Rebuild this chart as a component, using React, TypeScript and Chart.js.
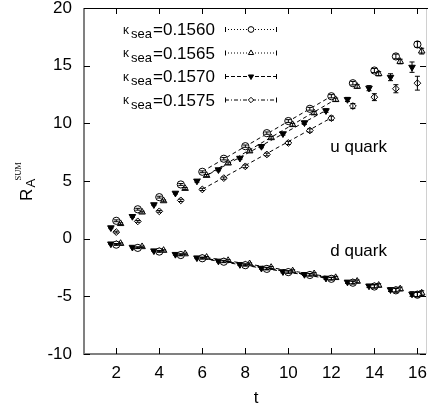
import { useEffect, useRef } from "react";
import { Chart, registerables } from "chart.js";
Chart.register(...registerables);

const FONT = '"Liberation Sans", Arial, Helvetica, sans-serif';

const tValues = [2, 3, 4, 5, 6, 7, 8, 9, 10, 11, 12, 13, 14, 15, 16];
const xTicks = [2, 4, 6, 8, 10, 12, 14, 16];
const yTicks = [-10, -5, 0, 5, 10, 15, 20];
const kappaLabels = ["0.1560", "0.1565", "0.1570", "0.1575"];
const xOffsets = [0, 0.2, -0.25, 0];

// u quark
const u1560 = [1.55, 2.55, 3.6, 4.7, 5.8, 6.93, 8.02, 9.15, 10.2, 11.26, 12.35, 13.48, 14.58, 15.8, 16.84];
const u1565 = [1.3, 2.3, 3.28, 4.35, 5.48, 6.55, 7.6, 8.75, 9.88, 10.9, 12.05, 13.2, 14.3, 15.36, 16.26];
const u1570 = [0.95, 1.93, 2.95, 3.95, 5.0, 5.98, 6.98, 8.0, 9.1, 10.05, 11.1, 12.07, 13.05, 14.0, 14.87];
const u1575 = [0.57, 1.5, 2.37, 3.32, 4.27, 5.25, 6.27, 7.3, 8.3, 9.38, 10.45, 11.5, 12.27, 13.0, 13.48];
const uErr1560 = [0.08, 0.08, 0.08, 0.08, 0.08, 0.1, 0.1, 0.1, 0.12, 0.12, 0.14, 0.15, 0.18, 0.2, 0.25];
const uErr1565 = [0.08, 0.08, 0.08, 0.08, 0.08, 0.1, 0.1, 0.1, 0.12, 0.12, 0.14, 0.15, 0.18, 0.2, 0.25];
const uErr1570 = [0.08, 0.08, 0.08, 0.08, 0.1, 0.1, 0.1, 0.12, 0.12, 0.14, 0.15, 0.18, 0.22, 0.3, 0.45];
const uErr1575 = [0.08, 0.08, 0.08, 0.1, 0.1, 0.1, 0.12, 0.12, 0.14, 0.15, 0.18, 0.22, 0.3, 0.35, 0.6];

// d quark
const d1560 = [-0.52, -0.8, -1.12, -1.42, -1.7, -2.0, -2.3, -2.62, -2.9, -3.15, -3.48, -3.82, -4.15, -4.48, -4.86];
const d1565 = [-0.42, -0.7, -1.02, -1.32, -1.62, -1.9, -2.18, -2.5, -2.8, -3.05, -3.38, -3.7, -4.05, -4.36, -4.72];
const d1570 = [-0.45, -0.74, -1.05, -1.36, -1.66, -1.94, -2.24, -2.56, -2.86, -3.1, -3.42, -3.76, -4.1, -4.42, -4.8];
const d1575 = [-0.48, -0.77, -1.08, -1.38, -1.67, -1.96, -2.26, -2.58, -2.88, -3.12, -3.45, -3.78, -4.12, -4.45, -4.82];
const dErr = [0.06, 0.06, 0.06, 0.07, 0.07, 0.08, 0.08, 0.09, 0.1, 0.1, 0.11, 0.12, 0.14, 0.16, 0.2];

// fit lines (t from 6 to 12)
const fitT = [6, 12];
const uFit1560 = [5.82, 12.35];
const uFit1565 = [5.5, 12.08];
const uFit1570 = [5.02, 11.12];
const uFit1575 = [4.28, 10.48];
const dFit1560 = [-1.68, -3.46];
const dFit1565 = [-1.63, -3.4];
const dFit1570 = [-1.66, -3.43];
const dFit1575 = [-1.67, -3.45];

const uSeries = [u1560, u1565, u1570, u1575];
const uErrs = [uErr1560, uErr1565, uErr1570, uErr1575];
const dSeries = [d1560, d1565, d1570, d1575];
const uFits = [uFit1560, uFit1565, uFit1570, uFit1575];
const dFits = [dFit1560, dFit1565, dFit1570, dFit1575];

const markerStyles = [
  { pointStyle: "circle", rotation: 0, fill: "#ffffff", radius: 3.6 },
  { pointStyle: "triangle", rotation: 0, fill: "#ffffff", radius: 3.8 },
  { pointStyle: "triangle", rotation: 180, fill: "#000000", radius: 3.8 },
  { pointStyle: "rectRot", rotation: 0, fill: "#ffffff", radius: 3.4 },
];
const legendDashes = [[1, 2], [1, 2], [4, 2], [4, 2, 1, 2]];

function drawMarker(ctx: CanvasRenderingContext2D, i: number, x: number, y: number, scale: number) {
  const m = markerStyles[i];
  const r = m.radius * scale;
  ctx.save();
  ctx.setLineDash([]);
  ctx.lineWidth = 1;
  ctx.strokeStyle = "#000";
  ctx.fillStyle = m.fill;
  ctx.beginPath();
  if (m.pointStyle === "circle") {
    ctx.arc(x, y, r, 0, Math.PI * 2);
  } else if (m.pointStyle === "triangle") {
    let rad = (m.rotation * Math.PI) / 180;
    ctx.moveTo(x + Math.sin(rad) * r, y - Math.cos(rad) * r);
    rad += (2 * Math.PI) / 3;
    ctx.lineTo(x + Math.sin(rad) * r, y - Math.cos(rad) * r);
    rad += (2 * Math.PI) / 3;
    ctx.lineTo(x + Math.sin(rad) * r, y - Math.cos(rad) * r);
    ctx.closePath();
  } else {
    ctx.moveTo(x, y - r);
    ctx.lineTo(x + r, y);
    ctx.lineTo(x, y + r);
    ctx.lineTo(x - r, y);
    ctx.closePath();
  }
  ctx.fill();
  ctx.stroke();
  ctx.restore();
}

const decorPlugin = {
  id: "decor",
  beforeDatasetsDraw(chart: any) {
    const { ctx, chartArea: a, scales } = chart;
    const xs = scales.x;
    const ys = scales.y;
    ctx.save();
    ctx.strokeStyle = "#d0d0d0";
    ctx.lineWidth = 1;
    ctx.beginPath();
    ctx.moveTo(a.right + 0.5, a.top);
    ctx.lineTo(a.right + 0.5, a.bottom);
    ctx.stroke();
    ctx.strokeStyle = "#000";
    ctx.beginPath();
    ctx.moveTo(a.left, a.top + 0.5);
    ctx.lineTo(a.right + 2, a.top + 0.5);
    ctx.stroke();
    ctx.strokeStyle = "#808080";
    ctx.lineWidth = 2;
    ctx.beginPath();
    ctx.moveTo(a.left, a.top);
    ctx.lineTo(a.left, a.bottom);
    ctx.moveTo(a.left - 1, a.bottom);
    ctx.lineTo(a.right, a.bottom);
    ctx.stroke();
    ctx.strokeStyle = "#000";
    ctx.lineWidth = 1;
    ctx.beginPath();
    for (const v of xTicks) {
      const px = Math.round(xs.getPixelForValue(v)) + 0.5;
      ctx.moveTo(px, a.bottom);
      ctx.lineTo(px, a.bottom - 6);
      ctx.moveTo(px, a.top);
      ctx.lineTo(px, a.top + 6);
    }
    for (const v of yTicks) {
      const py = Math.round(ys.getPixelForValue(v)) + 0.5;
      ctx.moveTo(a.left, py);
      ctx.lineTo(a.left + 6, py);
      ctx.moveTo(a.right, py);
      ctx.lineTo(a.right - 6, py);
    }
    ctx.stroke();
    ctx.restore();
  },
  afterDatasetsDraw(chart: any) {
    const { ctx, chartArea: a, scales } = chart;
    const xs = scales.x;
    const ys = scales.y;
    ctx.save();
    ctx.strokeStyle = "#000";
    ctx.lineWidth = 1;
    ctx.setLineDash([]);
    chart.data.datasets.forEach((ds: any) => {
      if (!ds.errors) return;
      ds.data.forEach((p: any, j: number) => {
        const e = ds.errors[j];
        const px = xs.getPixelForValue(p.x);
        const y1 = ys.getPixelForValue(p.y - e);
        const y2 = ys.getPixelForValue(p.y + e);
        ctx.beginPath();
        ctx.moveTo(px, y1);
        ctx.lineTo(px, y2);
        ctx.moveTo(px - 2.5, y1);
        ctx.lineTo(px + 2.5, y1);
        ctx.moveTo(px - 2.5, y2);
        ctx.lineTo(px + 2.5, y2);
        ctx.stroke();
      });
    });

    // legend
    ctx.fillStyle = "#000";
    ctx.textBaseline = "alphabetic";
    ctx.textAlign = "left";
    for (let i = 0; i < kappaLabels.length; i++) {
      const base = a.top + 27 + i * 23.5;
      const x0 = a.left + 39;
      ctx.font = `12px ${FONT}`;
      ctx.fillText("κ", x0, base - 1.5);
      ctx.font = `13px ${FONT}`;
      ctx.fillText("sea", x0 + 8, base + 3.3);
      ctx.font = `17px ${FONT}`;
      ctx.fillText("=" + kappaLabels[i], x0 + 30, base);
      const sy = base - 5.5;
      const l0 = a.left + 141;
      const l1 = a.left + 193;
      ctx.strokeStyle = "#000";
      ctx.lineWidth = 1;
      ctx.setLineDash(legendDashes[i]);
      ctx.beginPath();
      ctx.moveTo(l0, sy);
      ctx.lineTo(l1, sy);
      ctx.stroke();
      ctx.setLineDash([]);
      ctx.beginPath();
      ctx.moveTo(l0 + 0.5, sy - 2.5);
      ctx.lineTo(l0 + 0.5, sy + 2.5);
      ctx.moveTo(l1 - 0.5, sy - 2.5);
      ctx.lineTo(l1 - 0.5, sy + 2.5);
      ctx.stroke();
      drawMarker(ctx, i, (l0 + l1) / 2, sy, 0.8);
    }

    ctx.font = `17px ${FONT}`;
    ctx.fillStyle = "#000";
    ctx.fillText("u quark", xs.getPixelForValue(11.95), ys.getPixelForValue(7.5));
    ctx.fillText("d quark", xs.getPixelForValue(11.95), ys.getPixelForValue(-1.53));

    ctx.textAlign = "center";
    ctx.fillText("t", (a.left + a.right) / 2 + 1, 403);

    ctx.save();
    ctx.translate(31.5, 201);
    ctx.rotate(-Math.PI / 2);
    ctx.textAlign = "left";
    ctx.font = `17px ${FONT}`;
    ctx.fillText("R", 0, 0);
    ctx.font = `13px ${FONT}`;
    ctx.fillText("A", 13.5, 3.3);
    ctx.font = `8.5px "Liberation Serif", "Times New Roman", serif`;
    ctx.fillText("SUM", 20.5, -11);
    ctx.restore();

    ctx.restore();
  },
};

export default function App() {
  const ref = useRef<HTMLCanvasElement | null>(null);
  useEffect(() => {
    if (!ref.current) return;
    const datasets: any[] = [];
    for (let i = 0; i < 4; i++) {
      const m = markerStyles[i];
      const common = {
        showLine: false,
        pointStyle: m.pointStyle,
        rotation: m.rotation,
        pointRadius: m.radius,
        pointBorderWidth: 1,
        pointBorderColor: "#000",
        pointBackgroundColor: m.fill,
        borderColor: "#000",
        backgroundColor: m.fill,
      };
      datasets.push({
        ...common,
        label: "u " + kappaLabels[i],
        data: tValues.map((t, j) => ({ x: t + xOffsets[i], y: uSeries[i][j] })),
        errors: uErrs[i],
      });
      datasets.push({
        ...common,
        label: "d " + kappaLabels[i],
        data: tValues.map((t, j) => ({ x: t + xOffsets[i], y: dSeries[i][j] })),
        errors: dErr,
      });
    }
    for (let i = 0; i < 4; i++) {
      for (const fit of [uFits[i], dFits[i]]) {
        datasets.push({
          label: "fit",
          showLine: true,
          data: fitT.map((t, j) => ({ x: t + xOffsets[i], y: fit[j] })),
          borderColor: "#000",
          borderWidth: 1,
          borderDash: [4, 3],
          pointRadius: 0,
          fill: false,
        });
      }
    }
    const chart = new Chart(ref.current, {
      type: "scatter",
      data: { datasets },
      options: {
        responsive: false,
        animation: false,
        devicePixelRatio: 1,
        layout: { padding: { left: 0, right: 2, top: 8, bottom: 0 } },
        plugins: { legend: { display: false }, tooltip: { enabled: false } },
        scales: {
          x: {
            type: "linear",
            min: 0.5,
            max: 16.4,
            afterBuildTicks: (s: any) => {
              s.ticks = xTicks.map((v) => ({ value: v }));
            },
            afterFit: (s: any) => {
              s.height = 53;
              s.paddingLeft = 0;
              s.paddingRight = 0;
              s.paddingTop = 0;
              s.paddingBottom = 0;
            },
            grid: { display: false, drawTicks: false },
            border: { display: false },
            ticks: { font: { family: FONT, size: 17 }, color: "#000", padding: 9, maxRotation: 0, autoSkip: false },
          },
          y: {
            type: "linear",
            min: -10,
            max: 20,
            afterBuildTicks: (s: any) => {
              s.ticks = yTicks.map((v) => ({ value: v }));
            },
            afterFit: (s: any) => {
              s.width = 84;
              s.paddingLeft = 0;
              s.paddingRight = 0;
              s.paddingTop = 0;
              s.paddingBottom = 0;
            },
            grid: { display: false, drawTicks: false },
            border: { display: false },
            ticks: { font: { family: FONT, size: 17 }, color: "#000", padding: 12, autoSkip: false },
          },
        },
      } as any,
      plugins: [decorPlugin],
    });
    return () => chart.destroy();
  }, []);
  return (
    <div style={{ position: "absolute", left: 0, top: 0, width: 431, height: 407, background: "#fff" }}>
      <canvas ref={ref} width={431} height={407} style={{ width: 431, height: 407, display: "block" }} />
    </div>
  );
}
